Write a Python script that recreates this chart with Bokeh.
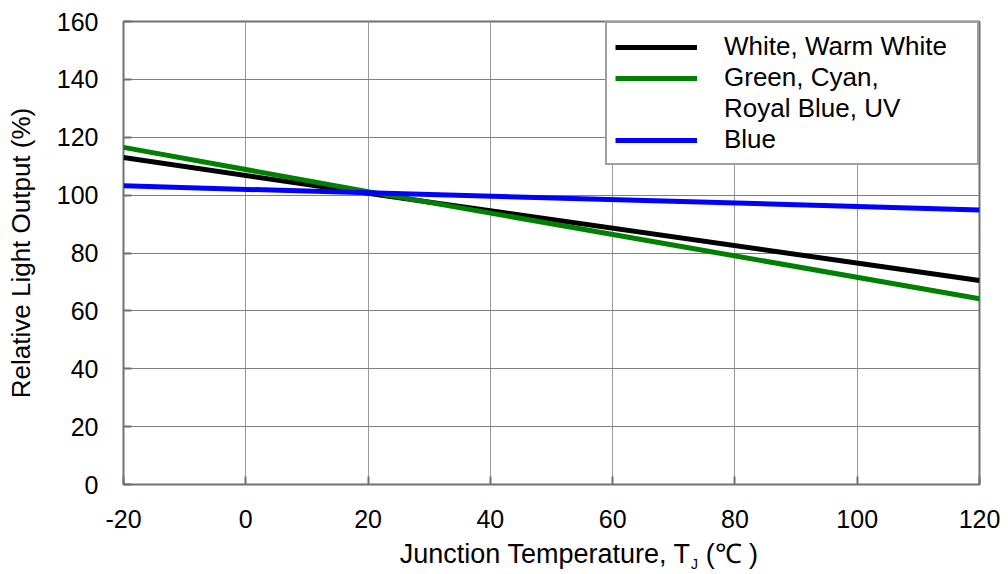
from bokeh.plotting import figure
from bokeh.models import FixedTicker, Range1d, Legend, LegendItem, LinearAxis
from bokeh.embed import file_html
from bokeh.resources import INLINE

# Data
temps = [-20, 20, 120]
white = [113.0, 100.6, 70.5]
green = [116.5, 101.2, 64.2]
blue = [103.2, 100.8, 94.9]

x_ticks = [-20, 0, 20, 40, 60, 80, 100, 120]
y_ticks = [0, 20, 40, 60, 80, 100, 120, 140, 160]

FONT = "Liberation Sans"

p = figure(width=1008, height=574, output_backend="svg", toolbar_location=None,
           x_range=Range1d(-20, 120), y_range=Range1d(0, 160),
           min_border_left=123, min_border_right=29, min_border_top=21, min_border_bottom=90)
p.background_fill_color = "white"
p.border_fill_color = "white"
p.outline_line_color = "#707070"
p.outline_line_width = 2

for ax in (p.xaxis[0], p.yaxis[0]):
    ax.axis_line_color = None
    ax.major_tick_line_color = "#707070"
    ax.major_tick_line_width = 2
    ax.major_tick_in = 8
    ax.major_tick_out = 0
    ax.minor_tick_line_color = None
    ax.major_label_text_font = FONT
    ax.major_label_text_font_size = "25px"
    ax.major_label_text_color = "black"

p.xaxis.ticker = FixedTicker(ticks=x_ticks)
p.yaxis.ticker = FixedTicker(ticks=y_ticks)
p.xaxis.major_label_overrides = {t: str(t) for t in x_ticks}
p.xaxis.major_label_standoff = 25
p.yaxis.major_label_standoff = 25
p.yaxis.axis_label = "Relative Light Output (%)"
p.yaxis.axis_label_text_font = FONT
p.yaxis.axis_label_text_font_size = "26px"
p.yaxis.axis_label_text_font_style = "normal"
p.yaxis.axis_label_text_color = "black"
p.yaxis.axis_label_standoff = 18

p.xgrid.grid_line_color = "#9a9a9a"
p.ygrid.grid_line_color = "#808080"
p.xgrid.grid_line_width = 1
p.ygrid.grid_line_width = 1

r_white = p.line(temps, white, line_color="black", line_width=5)
r_green = p.line(temps, green, line_color="#008000", line_width=5)
r_blue = p.line(temps, blue, line_color="#0000ff", line_width=5)
r_dummy = p.line(temps, blue, line_color="white", line_alpha=0, line_width=5)

legend = Legend(items=[
    LegendItem(label="White, Warm White", renderers=[r_white]),
    LegendItem(label="Green, Cyan,", renderers=[r_green]),
    LegendItem(label="Royal Blue, UV", renderers=[r_dummy]),
    LegendItem(label="Blue", renderers=[r_blue]),
], location="top_right")
legend.margin = 0
legend.padding = 8
legend.spacing = 0
legend.label_height = 30
legend.glyph_height = 30
legend.glyph_width = 82
legend.label_standoff = 27
legend.label_width = 245
legend.label_text_font = FONT
legend.label_text_font_size = "26px"
legend.label_text_color = "black"
legend.border_line_color = "#404040"
legend.border_line_width = 2
legend.background_fill_color = "white"
legend.background_fill_alpha = 1
p.add_layout(legend)

# X axis title, built from extra label-only axes (for the subscript J)
def text_axis(ticks, labels, size, standoff):
    ax = LinearAxis(ticker=FixedTicker(ticks=ticks),
                    major_label_overrides=dict(zip(ticks, labels)))
    ax.axis_line_color = None
    ax.major_tick_line_color = None
    ax.minor_tick_line_color = None
    ax.major_tick_in = 0
    ax.major_tick_out = 0
    ax.major_label_standoff = standoff
    ax.major_label_text_font = FONT
    ax.major_label_text_font_size = size
    ax.major_label_text_color = "black"
    return ax

p.add_layout(text_axis([49, 79.5], ["Junction Temperature, T", "(℃ )"], "27px", 8), "below")
p.add_layout(text_axis([73.4], ["J"], "14px", -16), "below")

open("out.html", "w").write(file_html(p, INLINE))
